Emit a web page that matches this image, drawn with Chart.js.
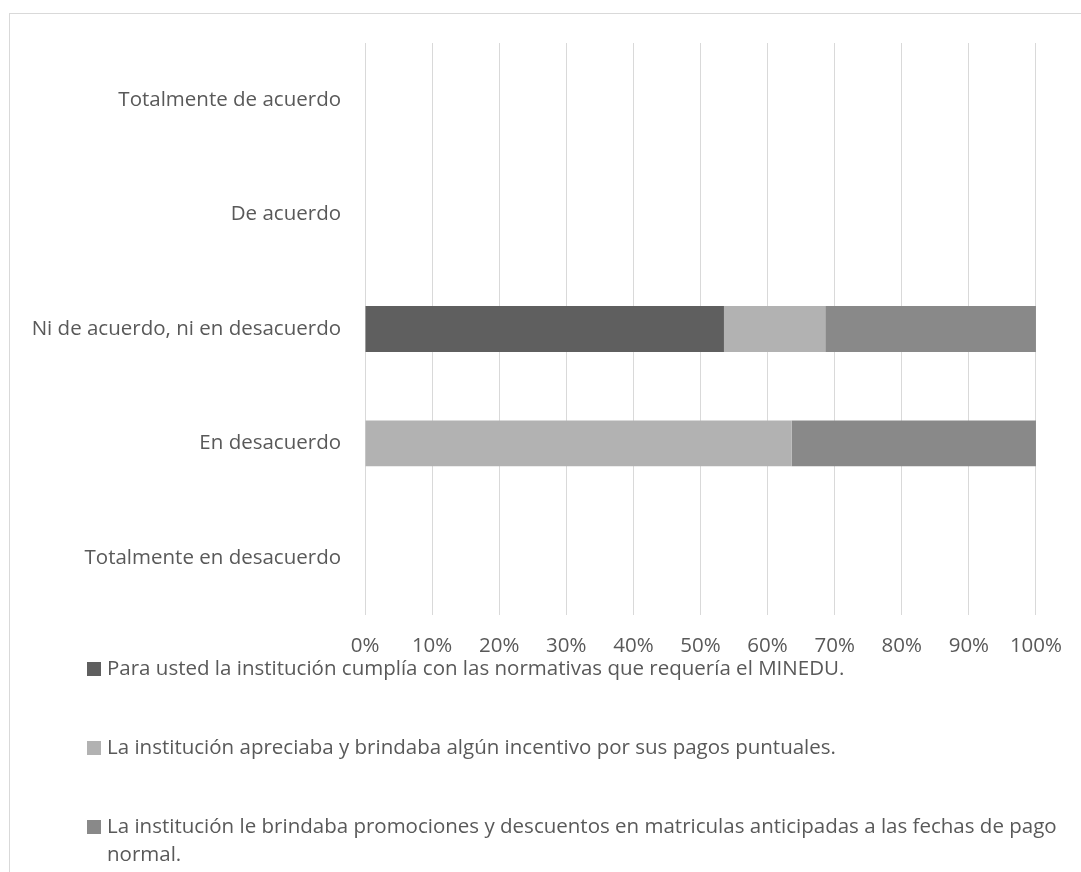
<!DOCTYPE html>
<html>
<head>
<meta charset="utf-8">
<script src="https://cdn.jsdelivr.net/npm/chart.js@4.4.1/dist/chart.umd.min.js"></script>
<style>
  html, body { margin: 0; padding: 0; background: #ffffff; }
  canvas { display: block; }
</style>
</head>
<body>
<canvas id="chart" width="1081" height="872"></canvas>
<script>
// Response categories (top to bottom)
const categories = [
  'Totalmente de acuerdo',
  'De acuerdo',
  'Ni de acuerdo, ni en desacuerdo',
  'En desacuerdo',
  'Totalmente en desacuerdo'
];

// Series names
const seriesLabels = [
  'Para usted la institución cumplía con las normativas que requería el MINEDU.',
  'La institución apreciaba y brindaba algún incentivo por sus pagos puntuales.',
  'La institución le brindaba promociones y descuentos en matriculas anticipadas a las fechas de pago normal.'
];

// Share of answers per category, in percent
const cumpliaNormativas     = [0, 0, 53.5, 0,    0];
const incentivoPagos        = [0, 0, 15.1, 63.6, 0];
const promocionesDescuentos = [0, 0, 31.4, 36.4, 0];

// Axis ticks
const percentTicks = [0, 10, 20, 30, 40, 50, 60, 70, 80, 90, 100];

const seriesColors = ['#5f5f5f', '#b2b2b2', '#898989'];
const textColor = '#595959';
const FONT_FAMILY = '"Open Sans", "Noto Sans", sans-serif';
const FONT_SIZE = 20.5;

// Outer frame and a wrapping legend drawn below the plot
const frameAndLegend = {
  id: 'frameAndLegend',
  beforeDraw(chart) {
    const ctx = chart.ctx;
    ctx.save();
    ctx.strokeStyle = '#d9d9d9';
    ctx.lineWidth = 1;
    ctx.strokeRect(9.5, 13.5, 1200, 1000);
    ctx.restore();
  },
  afterDraw(chart) {
    const ctx = chart.ctx;
    ctx.save();
    ctx.font = FONT_SIZE + 'px ' + FONT_FAMILY;
    ctx.textBaseline = 'middle';
    ctx.textAlign = 'left';
    const textX = 107;
    const maxWidth = 975;
    chart.data.datasets.forEach((ds, i) => {
      const y = 669 + i * 79;
      ctx.fillStyle = ds.backgroundColor;
      ctx.fillRect(87, y - 7, 14, 14);
      // word wrap
      const words = ds.label.split(' ');
      const lines = [];
      let line = '';
      words.forEach(w => {
        const test = line ? line + ' ' + w : w;
        if (ctx.measureText(test).width > maxWidth && line) {
          lines.push(line);
          line = w;
        } else {
          line = test;
        }
      });
      if (line) lines.push(line);
      ctx.fillStyle = textColor;
      lines.forEach((ln, j) => ctx.fillText(ln, textX, y + j * 28));
    });
    ctx.restore();
  }
};

const datasets = [cumpliaNormativas, incentivoPagos, promocionesDescuentos].map((values, i) => ({
  label: seriesLabels[i],
  data: values,
  backgroundColor: seriesColors[i],
  borderWidth: 0,
  categoryPercentage: 1.0,
  barPercentage: 0.4
}));

new Chart(document.getElementById('chart'), {
  type: 'bar',
  data: { labels: categories, datasets },
  plugins: [frameAndLegend],
  options: {
    indexAxis: 'y',
    responsive: false,
    animation: false,
    layout: { padding: { left: 0, top: 43, right: 43, bottom: 207 } },
    plugins: {
      legend: { display: false },
      tooltip: { enabled: false },
      title: { display: false }
    },
    scales: {
      x: {
        stacked: true,
        min: 0,
        max: 100,
        afterBuildTicks(scale) {
          scale.ticks = percentTicks.map(v => ({ value: v }));
        },
        afterFit(scale) { scale.height = 50; },
        ticks: {
          callback: v => v + '%',
          color: textColor,
          font: { family: FONT_FAMILY, size: FONT_SIZE },
          padding: 19,
          maxRotation: 0,
          autoSkip: false
        },
        grid: { color: '#d9d9d9', lineWidth: 1, drawTicks: false },
        border: { display: false }
      },
      y: {
        stacked: true,
        afterFit(scale) { scale.width = 365; },
        ticks: {
          color: textColor,
          font: { family: FONT_FAMILY, size: FONT_SIZE },
          padding: 24
        },
        grid: { display: false, drawTicks: false },
        border: { display: false }
      }
    }
  }
});
</script>
</body>
</html>
